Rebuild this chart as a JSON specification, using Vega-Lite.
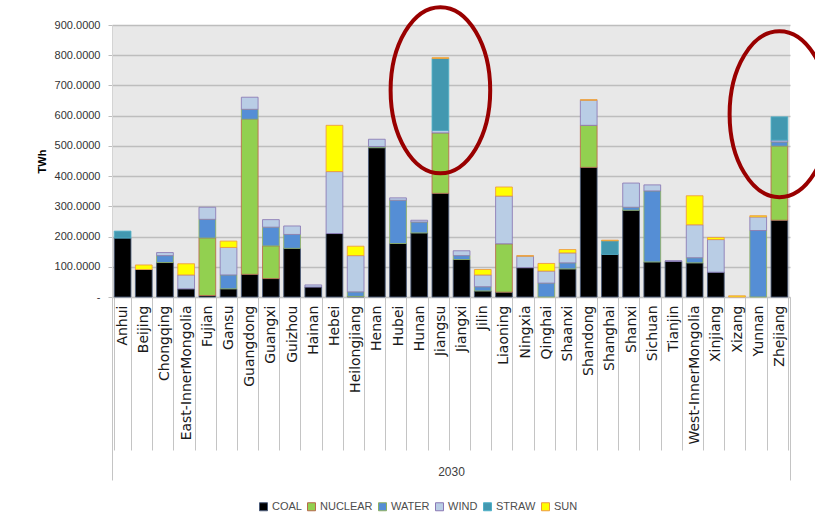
{
  "$schema": "https://vega.github.io/schema/vega-lite/v6.json",
  "autosize": {"type": "none"},
  "width": 678,
  "height": 272,
  "padding": {"left": 112, "top": 25, "right": 25, "bottom": 228},
  "background": "#ffffff",
  "config": {
    "view": {"fill": "#e8e8e8", "stroke": null},
    "font": "Liberation Sans, Arial, sans-serif"
  },
  "datasets": {
    "generation": [
      {"province": "Anhui", "COAL": 195, "STRAW": 23},
      {"province": "Beijing", "COAL": 91, "SUN": 15},
      {"province": "Chongqing", "COAL": 114, "WATER": 23, "WIND": 10},
      {"province": "East-InnerMongolia", "COAL": 27, "WIND": 46, "SUN": 37},
      {"province": "Fujian", "COAL": 5, "NUCLEAR": 190, "WATER": 62, "WIND": 40},
      {"province": "Gansu", "COAL": 27, "WATER": 46, "WIND": 91, "SUN": 21},
      {"province": "Guangdong", "COAL": 75, "NUCLEAR": 513, "WATER": 33, "WIND": 40},
      {"province": "Guangxi", "COAL": 61, "NUCLEAR": 108, "WATER": 62, "WIND": 25},
      {"province": "Guizhou", "COAL": 161, "WATER": 46, "WIND": 28},
      {"province": "Hainan", "COAL": 33, "WIND": 7},
      {"province": "Hebei", "COAL": 210, "WIND": 205, "SUN": 153},
      {"province": "Heilongjiang", "COAL": 2, "WATER": 15, "WIND": 120, "SUN": 31},
      {"province": "Henan", "COAL": 494, "WATER": 4, "WIND": 24},
      {"province": "Hubei", "COAL": 177, "WATER": 143, "WIND": 8},
      {"province": "Hunan", "COAL": 212, "WATER": 36, "WIND": 6},
      {"province": "Jiangsu", "COAL": 343, "NUCLEAR": 200, "WIND": 8, "STRAW": 238, "SUN": 3},
      {"province": "Jiangxi", "COAL": 124, "WATER": 13, "WIND": 16},
      {"province": "Jilin", "COAL": 20, "WATER": 14, "WIND": 39, "SUN": 18},
      {"province": "Liaoning", "COAL": 16, "NUCLEAR": 160, "WIND": 158, "SUN": 30},
      {"province": "Ningxia", "COAL": 97, "WIND": 38, "SUN": 2},
      {"province": "Qinghai", "WATER": 46, "WIND": 40, "SUN": 25},
      {"province": "Shaanxi", "COAL": 93, "WATER": 20, "WIND": 33, "SUN": 11},
      {"province": "Shandong", "COAL": 429, "NUCLEAR": 139, "WIND": 83, "SUN": 2},
      {"province": "Shanghai", "COAL": 141, "STRAW": 45, "SUN": 2},
      {"province": "Shanxi", "COAL": 287, "WATER": 10, "WIND": 80},
      {"province": "Sichuan", "COAL": 116, "WATER": 235, "WIND": 20},
      {"province": "Tianjin", "COAL": 118, "WIND": 2},
      {"province": "West-InnerMongolia", "COAL": 113, "WATER": 17, "WIND": 109, "SUN": 96},
      {"province": "Xinjiang", "COAL": 82, "WIND": 108, "SUN": 7},
      {"province": "Xizang", "SUN": 4},
      {"province": "Yunnan", "WATER": 220, "WIND": 45, "SUN": 4},
      {"province": "Zhejiang", "COAL": 254, "NUCLEAR": 245, "WATER": 14, "WIND": 6, "STRAW": 77}
    ],
    "sources": [
      {"source": "COAL", "rank": 0},
      {"source": "NUCLEAR", "rank": 1},
      {"source": "WATER", "rank": 2},
      {"source": "WIND", "rank": 3},
      {"source": "STRAW", "rank": 4},
      {"source": "SUN", "rank": 5}
    ],
    "highlights": [
      {"province": "Jiangsu", "twh": 684},
      {"province": "Zhejiang", "twh": 605}
    ],
    "years": [
      {"year": "2030"}
    ]
  },
  "resolve": {"scale": {"x": "independent"}, "axis": {"x": "independent"}},
  "layer": [
    {
      "layer": [
        {
          "data": {"name": "generation"},
          "transform": [
            {"fold": ["COAL", "NUCLEAR", "WATER", "WIND", "STRAW", "SUN"], "as": ["source", "twh"]},
            {"filter": "datum.twh > 0"},
            {"lookup": "source", "from": {"data": {"name": "sources"}, "key": "source", "fields": ["rank"]}}
          ],
          "mark": {"type": "bar", "strokeWidth": 1, "strokeOpacity": 0.85},
          "encoding": {
            "x": {
              "field": "province",
              "type": "nominal",
              "sort": null,
              "scale": {"paddingInner": 0.21, "paddingOuter": 0.105},
              "axis": {
                "orient": "bottom",
                "title": null,
                "labelAngle": 270,
                "labelAlign": "right",
                "labelBaseline": "middle",
                "labelFont": "DejaVu Sans, sans-serif",
                "labelFontSize": 14,
                "labelColor": "#1a1a1a",
                "labelPadding": -145,
                "labelOverlap": false,
                "tickBand": "extent",
                "tickSize": 153,
                "tickColor": "#c4c4c4",
                "tickWidth": 1,
                "domainColor": "#c4c4c4",
                "grid": false
              }
            },
            "y": {
              "field": "twh",
              "type": "quantitative",
              "stack": "zero",
              "scale": {"domain": [0, 900], "nice": false},
              "axis": {
                "title": "TWh",
                "titleFont": "Liberation Sans, Arial, sans-serif",
                "titleFontSize": 11,
                "titleFontWeight": "bold",
                "titleColor": "#000000",
                "titlePadding": 7,
                "values": [0, 100, 200, 300, 400, 500, 600, 700, 800, 900],
                "labelOverlap": false,
                "labelExpr": "datum.value == 0 ? '-\u00a0\u00a0\u00a0\u00a0' : format(datum.value, '.4f')",
                "labelFont": "Liberation Sans, Arial, sans-serif",
                "labelFontSize": 11,
                "labelColor": "#333333",
                "labelPadding": 8,
                "tickSize": 4,
                "tickColor": "#bdbdbd",
                "gridColor": "#bdbdbd",
                "gridWidth": 1.5,
                "domainColor": "#d4d4d4"
              }
            },
            "color": {
              "field": "source",
              "type": "nominal",
              "scale": {
                "domain": ["COAL", "NUCLEAR", "WATER", "WIND", "STRAW", "SUN"],
                "range": ["#000000", "#92d050", "#558ed5", "#b9cde5", "#4298b0", "#ffff00"]
              },
              "legend": {
                "title": null,
                "orient": "none",
                "legendX": 146,
                "legendY": 476,
                "direction": "horizontal",
                "columns": 6,
                "columnPadding": 3,
                "symbolType": "square",
                "symbolSize": 64,
                "symbolStrokeWidth": 1,
                "labelFont": "Liberation Sans, Arial, sans-serif",
                "labelFontSize": 11,
                "labelColor": "#4d4d4d",
                "labelOffset": 3
              }
            },
            "stroke": {
              "field": "source",
              "type": "nominal",
              "scale": {
                "domain": ["COAL", "NUCLEAR", "WATER", "WIND", "STRAW", "SUN"],
                "range": ["#4a5a78", "#b8694c", "#8fb060", "#8a78b4", "#4fb0c8", "#ee9a40"]
              },
              "legend": null
            },
            "order": {"field": "rank", "type": "quantitative"}
          }
        },
        {
          "data": {"name": "highlights"},
          "mark": {
            "type": "point",
            "shape": "M0,-1 A0.6,1 0 1,1 0,1 A0.6,1 0 1,1 0,-1 Z",
            "filled": false,
            "size": 27556,
            "stroke": "#990000",
            "strokeWidth": 4,
            "opacity": 1
          },
          "encoding": {
            "x": {"field": "province", "type": "nominal", "sort": null},
            "y": {
              "field": "twh",
              "type": "quantitative",
              "axis": {
                "title": "TWh",
                "titleFont": "Liberation Sans, Arial, sans-serif",
                "titleFontSize": 11,
                "titleFontWeight": "bold",
                "titleColor": "#000000",
                "titlePadding": 7,
                "values": [0, 100, 200, 300, 400, 500, 600, 700, 800, 900],
                "labelOverlap": false,
                "labelExpr": "datum.value == 0 ? '-\u00a0\u00a0\u00a0\u00a0' : format(datum.value, '.4f')",
                "labelFont": "Liberation Sans, Arial, sans-serif",
                "labelFontSize": 11,
                "labelColor": "#333333",
                "labelPadding": 8,
                "tickSize": 4,
                "tickColor": "#bdbdbd",
                "gridColor": "#bdbdbd",
                "gridWidth": 1.5,
                "domainColor": "#d4d4d4"
              }
            }
          }
        }
      ]
    },
    {
      "data": {"name": "years"},
      "mark": {"type": "rule", "opacity": 0},
      "encoding": {
        "x": {
          "field": "year",
          "type": "nominal",
          "scale": {"paddingInner": 0, "paddingOuter": 0},
          "axis": {
            "orient": "bottom",
            "title": null,
            "labelAngle": 0,
            "labelAlign": "center",
            "labelBaseline": "middle",
            "labelFont": "Liberation Sans, Arial, sans-serif",
            "labelFontSize": 12,
            "labelColor": "#404040",
            "labelPadding": -9,
            "tickBand": "extent",
            "tickSize": 183,
            "tickColor": "#c4c4c4",
            "tickWidth": 1,
            "domain": false,
            "grid": false
          }
        }
      }
    }
  ]
}
